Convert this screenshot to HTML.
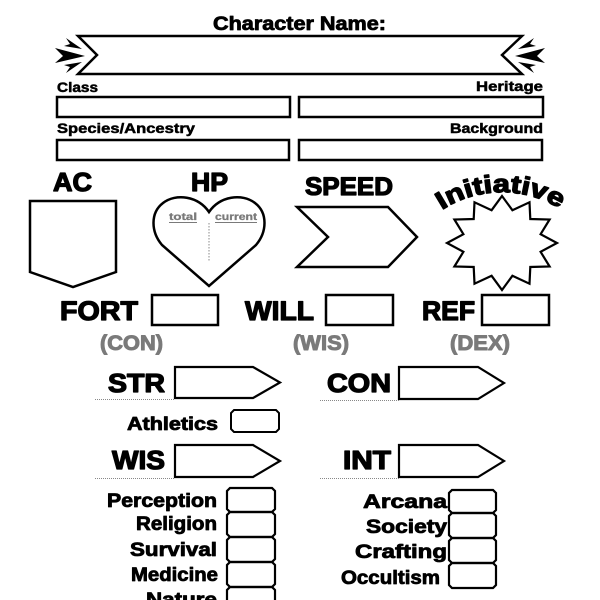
<!DOCTYPE html>
<html><head><meta charset="utf-8"><style>
html,body{margin:0;padding:0;background:#fff;}
svg{display:block;}
text{font-family:"Liberation Sans",sans-serif;font-weight:bold;fill:#000;stroke:#000;stroke-linejoin:round;}
.s{stroke-width:0.5;}
.m{stroke-width:0.8;}
.l{stroke-width:1.3;}
.g{fill:#7a7a7a;stroke:#7a7a7a;}
</style></head><body>
<svg width="600" height="600" viewBox="0 0 600 600" xmlns="http://www.w3.org/2000/svg">
<rect width="600" height="600" fill="#fff"/>
<!-- Title -->
<text class="m" x="213" y="30" font-size="19" textLength="173" lengthAdjust="spacingAndGlyphs">Character Name:</text>
<!-- Banner -->
<polygon points="78,36 522,36 502,55 522,74 78,74 97,55" fill="#fff" stroke="#000" stroke-width="2.5" stroke-linejoin="miter"/>
<g fill="#000">
  <polygon points="66,38 82,49 64,46 70,44"/>
  <polygon points="55,48 85,56 55,63 63,56"/>
  <polygon points="82,62 66,73 70,67 64,65"/>
</g>
<g transform="translate(600,0) scale(-1,1)" fill="#000">
  <polygon points="66,38 82,49 64,46 70,44"/>
  <polygon points="55,48 85,56 55,63 63,56"/>
  <polygon points="82,62 66,73 70,67 64,65"/>
</g>
<!-- Class / Heritage -->
<text class="s" x="57" y="92" font-size="14" textLength="41" lengthAdjust="spacingAndGlyphs">Class</text>
<text class="s" x="476" y="91" font-size="14" textLength="67" lengthAdjust="spacingAndGlyphs">Heritage</text>
<rect x="57" y="97" width="233" height="20" fill="none" stroke="#000" stroke-width="2.5"/>
<rect x="299" y="97" width="244" height="20" fill="none" stroke="#000" stroke-width="2.5"/>
<text class="s" x="57" y="133" font-size="14" textLength="138" lengthAdjust="spacingAndGlyphs">Species/Ancestry</text>
<text class="s" x="450" y="133" font-size="14" textLength="93" lengthAdjust="spacingAndGlyphs">Background</text>
<rect x="57" y="140" width="232" height="20" fill="none" stroke="#000" stroke-width="2.5"/>
<rect x="299" y="140" width="243" height="20" fill="none" stroke="#000" stroke-width="2.5"/>
<!-- AC -->
<text class="l" x="53" y="191" font-size="26" textLength="39" lengthAdjust="spacingAndGlyphs">AC</text>
<polygon points="30,201 116,201 116,272 73,287 30,272" fill="none" stroke="#000" stroke-width="2.5"/>
<!-- HP -->
<text class="l" x="191" y="191" font-size="26" textLength="37" lengthAdjust="spacingAndGlyphs">HP</text>
<path d="M209,212 C198,196 176,193 163,203 C150,213 151,232 162,245 L209,286 L256,245 C267,232 268,213 255,203 C242,193 220,196 209,212 Z" fill="none" stroke="#000" stroke-width="2.5" stroke-linejoin="miter"/>
<text x="169" y="220" font-size="10" class="g" stroke-width="0.3" textLength="28" lengthAdjust="spacingAndGlyphs">total</text>
<line x1="169" y1="222.5" x2="197" y2="222.5" stroke="#7a7a7a" stroke-width="1"/>
<text x="215" y="220" font-size="10" class="g" stroke-width="0.3" textLength="42" lengthAdjust="spacingAndGlyphs">current</text>
<line x1="215" y1="222.5" x2="257" y2="222.5" stroke="#7a7a7a" stroke-width="1"/>
<line x1="209" y1="223" x2="209" y2="262" stroke="#888" stroke-width="1" stroke-dasharray="1.5,1.5"/>
<!-- SPEED -->
<text class="l" x="305" y="195" font-size="25" textLength="88" lengthAdjust="spacingAndGlyphs">SPEED</text>
<polygon points="297,207 388,207 417,237 388,267 297,267 328,237" fill="none" stroke="#000" stroke-width="2.5"/>
<!-- Initiative -->
<defs><path id="arc" d="M442,210 A110,110 0 0 1 562,210"/></defs>
<text class="l" font-size="25"><textPath href="#arc" startOffset="0" textLength="124" lengthAdjust="spacingAndGlyphs">Initiative</textPath></text>
<polygon points="502,196 512.4,210.2 529.5,202.3 530.3,219 549.6,219.5 540.6,234.2 557,243 540.6,251.8 549.6,266.5 530.3,267 529.5,283.7 512.4,275.8 502,290 491.6,275.8 474.5,283.7 473.7,267 454.4,266.5 463.4,251.8 447,243 463.4,234.2 454.4,219.5 473.7,219 474.5,202.3 491.6,210.2" fill="none" stroke="#000" stroke-width="2.2" stroke-linejoin="miter"/>
<!-- Saves -->
<text class="l" x="60" y="320" font-size="27" textLength="78" lengthAdjust="spacingAndGlyphs">FORT</text>
<rect x="152" y="295" width="66" height="30" fill="none" stroke="#000" stroke-width="2.5"/>
<text x="100" y="350" font-size="21" class="g" stroke-width="1" textLength="63" lengthAdjust="spacingAndGlyphs">(CON)</text>
<text class="l" x="245" y="320" font-size="27" textLength="69" lengthAdjust="spacingAndGlyphs">WILL</text>
<rect x="326" y="295" width="67" height="30" fill="none" stroke="#000" stroke-width="2.5"/>
<text x="293" y="350" font-size="21" class="g" stroke-width="1" textLength="56" lengthAdjust="spacingAndGlyphs">(WIS)</text>
<text class="l" x="422" y="320" font-size="27" textLength="53" lengthAdjust="spacingAndGlyphs">REF</text>
<rect x="482" y="295" width="67" height="30" fill="none" stroke="#000" stroke-width="2.5"/>
<text x="450" y="350" font-size="21" class="g" stroke-width="1" textLength="60" lengthAdjust="spacingAndGlyphs">(DEX)</text>
<!-- Attributes -->
<text class="l" x="108" y="392" font-size="26" textLength="57" lengthAdjust="spacingAndGlyphs">STR</text>
<polygon points="175,367 253,367 280,382.5 253,398 175,398" fill="none" stroke="#000" stroke-width="2.2"/>
<line x1="95" y1="399.5" x2="175" y2="399.5" stroke="#888" stroke-width="1" stroke-dasharray="1,1"/>
<text class="l" x="327" y="392" font-size="26" textLength="64" lengthAdjust="spacingAndGlyphs">CON</text>
<polygon points="399,367 478,367 504,383 478,399 399,399" fill="none" stroke="#000" stroke-width="2.2"/>
<line x1="320" y1="400.5" x2="399" y2="400.5" stroke="#888" stroke-width="1" stroke-dasharray="1,1"/>
<text class="m" x="127" y="430" font-size="18" textLength="91" lengthAdjust="spacingAndGlyphs">Athletics</text>
<path d="M234,410 L276,410 L279,413 L279,429 L276,432 L234,432 L231,429 L231,413 Z" fill="none" stroke="#000" stroke-width="2"/>
<text class="l" x="112" y="469" font-size="26" textLength="53" lengthAdjust="spacingAndGlyphs">WIS</text>
<polygon points="175,445 253,445 280,461 253,477 175,477" fill="none" stroke="#000" stroke-width="2.2"/>
<line x1="95" y1="478.5" x2="175" y2="478.5" stroke="#888" stroke-width="1" stroke-dasharray="1,1"/>
<text class="l" x="343" y="469" font-size="26" textLength="48" lengthAdjust="spacingAndGlyphs">INT</text>
<polygon points="399,445 478,445 504,461 478,477 399,477" fill="none" stroke="#000" stroke-width="2.2"/>
<line x1="320" y1="478.5" x2="399" y2="478.5" stroke="#888" stroke-width="1" stroke-dasharray="1,1"/>
<!-- Left skills -->
<text class="m" x="107" y="507" font-size="19" textLength="110" lengthAdjust="spacingAndGlyphs">Perception</text>
<text class="m" x="136" y="530" font-size="19" textLength="81" lengthAdjust="spacingAndGlyphs">Religion</text>
<text class="m" x="130" y="556" font-size="19" textLength="87" lengthAdjust="spacingAndGlyphs">Survival</text>
<text class="m" x="131" y="581" font-size="19" textLength="87" lengthAdjust="spacingAndGlyphs">Medicine</text>
<text class="m" x="146" y="606" font-size="19" textLength="71" lengthAdjust="spacingAndGlyphs">Nature</text>
<g fill="none" stroke="#000" stroke-width="2.2">
<path d="M230,488 L272,488 L275,491 L275,509 L272,512 L230,512 L227,509 L227,491 Z"/>
<path d="M230,512 L272,512 L275,515 L275,534 L272,537 L230,537 L227,534 L227,515 Z"/>
<path d="M230,537 L272,537 L275,540 L275,559 L272,562 L230,562 L227,559 L227,540 Z"/>
<path d="M230,562 L272,562 L275,565 L275,584 L272,587 L230,587 L227,584 L227,565 Z"/>
<path d="M230,587 L272,587 L275,590 L275,609 L272,612 L230,612 L227,609 L227,590 Z"/>
</g>
<!-- Right skills -->
<text class="m" x="363" y="508" font-size="19" textLength="84" lengthAdjust="spacingAndGlyphs">Arcana</text>
<text class="m" x="366" y="533" font-size="19" textLength="81" lengthAdjust="spacingAndGlyphs">Society</text>
<text class="m" x="355" y="558" font-size="19" textLength="92" lengthAdjust="spacingAndGlyphs">Crafting</text>
<text class="m" x="341" y="584" font-size="19" textLength="99" lengthAdjust="spacingAndGlyphs">Occultism</text>
<g fill="none" stroke="#000" stroke-width="2.2">
<path d="M452,490 L493,490 L496,493 L496,510 L493,513 L452,513 L449,510 L449,493 Z"/>
<path d="M452,513 L493,513 L496,516 L496,535 L493,538 L452,538 L449,535 L449,516 Z"/>
<path d="M452,538 L493,538 L496,541 L496,560 L493,563 L452,563 L449,560 L449,541 Z"/>
<path d="M452,563 L493,563 L496,566 L496,585 L493,588 L452,588 L449,585 L449,566 Z"/>
</g>
</svg>
</body></html>
